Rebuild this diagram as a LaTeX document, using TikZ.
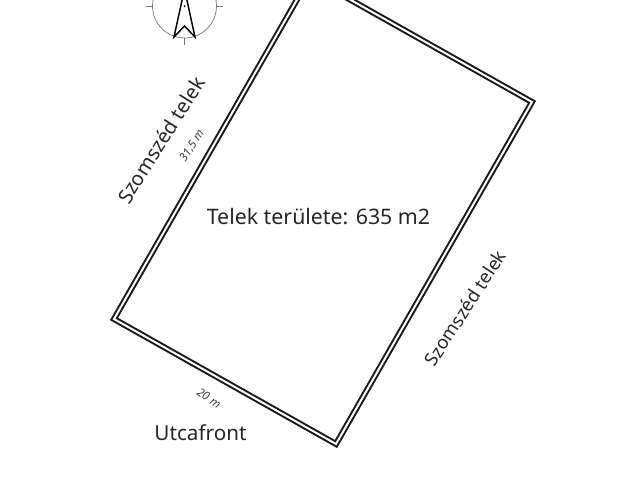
\documentclass[tikz,border=0pt]{standalone}
\usepackage{fontspec}
\setmainfont{Noto Sans}
\tikzset{
  wall/.style={draw=black!90,line width=1.5pt,double=white,double distance=1.5pt,line join=miter},
  compassline/.style={draw=black!55,line width=0.5pt},
  arrowline/.style={draw=black,line width=1.1pt,line join=miter},
  biglabel/.style={inner sep=0.75pt,text=black!85,font=\fontsize{15.5}{17}\selectfont},
  smalllabel/.style={inner sep=0.75pt,text=black!75,font=\itshape\fontsize{8.7}{10}\selectfont}
}
\begin{document}
\begin{tikzpicture}[x=0.75pt,y=0.75pt,yscale=-1,xscale=1]
\useasboundingbox (0,0) rectangle (640,480);
\clip (0,0) rectangle (640,480);

% compass
\draw [compassline] (184.5,6) circle [radius=32];
\draw [compassline] (146,6) -- (152.5,6);
\draw [compassline] (216.5,6) -- (223,6);
\draw [compassline] (184.5,38) -- (184.5,45);
\draw [arrowline] (184.5,-11) -- (174,37) -- (184.5,26) -- (195,37) -- cycle;
\fill (184.5,6) circle [radius=1];

% plot outline
\coordinate (left) at (114,319);
\coordinate (bottom) at (336,444);
\coordinate (right) at (532,102);
\coordinate (top) at (310,-23);
\draw [wall] (left) -- (bottom) -- (right) -- (top) -- cycle;

\node (area) [biglabel,font=\fontsize{16}{18}\selectfont] at (318.5,217) {Telek területe: 635 m2};
\node (front) [biglabel] at (200.5,433) {Utcafront};
\node (westlot) [biglabel,rotate=58,font=\fontsize{15}{17}\selectfont] at (161,140) {Szomszéd telek};
\node (eastlot) [biglabel,rotate=57,font=\fontsize{13.8}{16}\selectfont] at (465,308) {Szomszéd telek};
\node (sidelen) [smalllabel,rotate=57] at (192,146) {31,5 m};
\node (frontlen) [smalllabel,rotate=-33] at (209,398) {20 m};

\end{tikzpicture}
\end{document}
